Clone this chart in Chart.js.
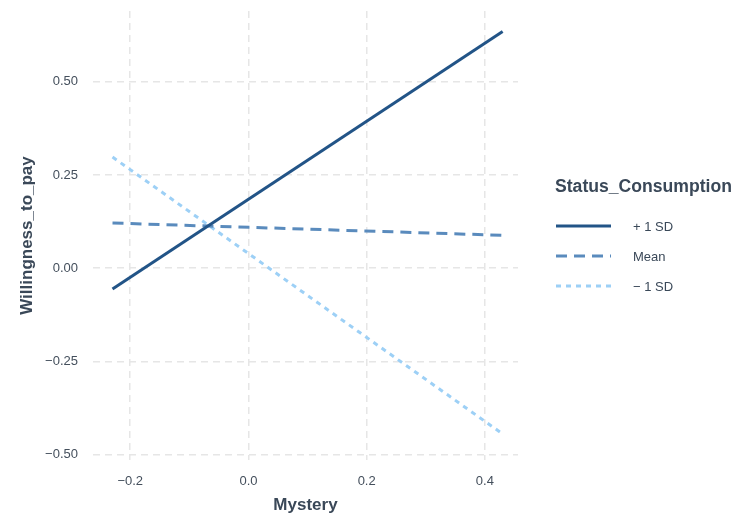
<!DOCTYPE html>
<html>
<head>
<meta charset="utf-8">
<script src="https://cdn.jsdelivr.net/npm/chart.js@4"></script>
<style>
  html, body { margin: 0; padding: 0; background: #ffffff; }
  #wrap { width: 736px; height: 519px; position: relative; }
</style>
</head>
<body>
<div id="wrap"><canvas id="c" width="736" height="519"></canvas></div>
<script>
// Simple slopes of Willingness_to_pay on Mystery at three levels of Status_Consumption
const mystery = [-0.23, 0.43];
const plusSD = [-0.056, 0.635];
const meanLvl = [0.121, 0.088];
const minusSD = [0.298, -0.445];
const seriesNames = ['+ 1 SD', 'Mean', '\u2212 1 SD'];
const xTicks = [-0.2, 0.0, 0.2, 0.4];
const yTicks = [-0.5, -0.25, 0.0, 0.25, 0.5];

const FONT = '"Liberation Sans", Arial, Helvetica, sans-serif';
const TITLE_COL = '#3a4858';
const TICK_COL = '#444f5c';
const GRID_COL = '#e6e6e6';

const toPts = (ys) => mystery.map((x, i) => ({ x: x, y: ys[i] }));
const fmt = (v, d) => v.toFixed(d).replace('-', '\u2212');

// Fixed axis boxes so the panel sits at a set place on the canvas
const fixBox = (w, h) => (s) => {
  if (w !== null) s.width = w;
  if (h !== null) s.height = h;
  s.paddingTop = 0; s.paddingBottom = 0; s.paddingLeft = 0; s.paddingRight = 0;
};

// Legend drawn to the right of the panel, styled from the datasets
const sideLegend = {
  id: 'sideLegend',
  afterDraw(chart) {
    const ctx = chart.ctx;
    ctx.save();
    ctx.fillStyle = TITLE_COL;
    ctx.font = 'bold 17.6px ' + FONT;
    ctx.textBaseline = 'middle';
    ctx.textAlign = 'left';
    ctx.fillText('Status_Consumption', 555, 187);
    chart.data.datasets.forEach((ds, i) => {
      const y = 226 + i * 30;
      ctx.beginPath();
      ctx.strokeStyle = ds.borderColor;
      ctx.lineWidth = ds.borderWidth;
      ctx.setLineDash(ds.borderDash || []);
      ctx.moveTo(556, y);
      ctx.lineTo(611, y);
      ctx.stroke();
      ctx.setLineDash([]);
      ctx.fillStyle = TITLE_COL;
      ctx.font = '13px ' + FONT;
      ctx.fillText(ds.label, 633, y + 1);
    });
    ctx.restore();
  }
};

new Chart(document.getElementById('c'), {
  type: 'scatter',
  data: {
    datasets: [
      { label: seriesNames[0], data: toPts(plusSD), showLine: true, borderColor: '#225487', borderWidth: 3, pointRadius: 0, borderDash: [] },
      { label: seriesNames[1], data: toPts(meanLvl), showLine: true, borderColor: '#5a8bbd', borderWidth: 3, pointRadius: 0, borderDash: [11, 7] },
      { label: seriesNames[2], data: toPts(minusSD), showLine: true, borderColor: '#9dd0f6', borderWidth: 3, pointRadius: 0, borderDash: [5, 5] }
    ]
  },
  options: {
    responsive: false,
    animation: false,
    layout: { padding: { top: 11, right: 218, left: 0, bottom: 0 } },
    plugins: { legend: { display: false }, tooltip: { enabled: false } },
    scales: {
      x: {
        type: 'linear',
        min: -0.263,
        max: 0.456,
        afterBuildTicks: (s) => { s.ticks = xTicks.map(v => ({ value: v })); },
        afterFit: fixBox(null, 59),
        border: { display: false, dash: [7, 5] },
        grid: { color: GRID_COL, lineWidth: 1.5, drawTicks: false },
        ticks: { color: TICK_COL, font: { family: FONT, size: 13 }, padding: 14, callback: (v) => fmt(v, 1), maxRotation: 0 },
        title: { display: true, text: 'Mystery', color: TITLE_COL, font: { family: FONT, size: 17, weight: 'bold' }, padding: { top: 0, bottom: 3 } }
      },
      y: {
        type: 'linear',
        min: -0.515,
        max: 0.69,
        afterBuildTicks: (s) => { s.ticks = yTicks.map(v => ({ value: v })); },
        afterFit: fixBox(93, null),
        border: { display: false, dash: [7, 5] },
        grid: { color: GRID_COL, lineWidth: 1.5, drawTicks: false },
        ticks: { color: TICK_COL, font: { family: FONT, size: 13 }, padding: 15, callback: (v) => fmt(v, 2) },
        title: { display: true, text: 'Willingness_to_pay', color: TITLE_COL, font: { family: FONT, size: 17, weight: 'bold' }, padding: { top: 17, bottom: 0 } }
      }
    }
  },
  plugins: [sideLegend]
});
</script>
</body>
</html>
